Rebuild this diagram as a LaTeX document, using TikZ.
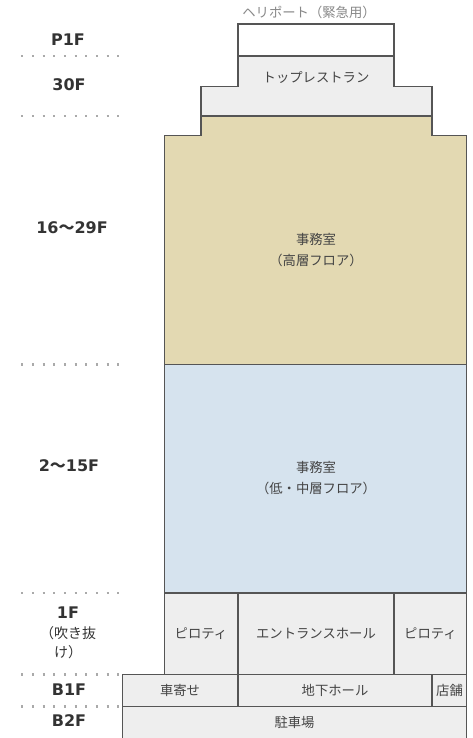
\documentclass[tikz,border=0pt]{standalone}
\usepackage{fontspec}
\setmainfont{DejaVu Sans}
\newfontfamily\jp{Noto Sans CJK JP}
\definecolor{edge}{HTML}{555555}
\definecolor{gry}{HTML}{EEEEEE}
\definecolor{tan}{HTML}{E3D9B2}
\definecolor{blu}{HTML}{D6E3EE}
\definecolor{lbl}{HTML}{333333}
\definecolor{txt}{HTML}{444444}
\definecolor{dotc}{HTML}{AAAAAA}
\definecolor{heli}{HTML}{888888}
\tikzset{
  area/.style={draw=edge, line width=0.8pt, line join=miter},
  floorlbl/.style={font=\fontsize{12}{14.6}\selectfont\bfseries, text=lbl, align=center, inner sep=0pt},
  roomlbl/.style={font=\jp\fontsize{10}{15.8}\selectfont, text=txt, align=center, inner sep=0pt},
  dotline/.style={draw=dotc, line width=1.6pt, dash pattern=on 1.6pt off 6.4pt},
}
\begin{document}
\begin{tikzpicture}[x=0.75pt,y=-0.75pt]
\useasboundingbox (0,0) rectangle (473,738);
\clip (0,0) rectangle (473,738);
% helipad
\draw[area, fill=white] (238,24) rectangle (394,56);
% 30F
\draw[area, fill=gry] (238,56) -- (394,56) -- (394,86.5) -- (432,86.5) -- (432,116) -- (201,116) -- (201,86.5) -- (238,86.5) -- cycle;
% high floors
\draw[area, fill=tan] (201,116) -- (432,116) -- (432,135.5) -- (466.5,135.5) -- (466.5,364.5) -- (164.5,364.5) -- (164.5,135.5) -- (201,135.5) -- cycle;
% low floors
\draw[area, fill=blu] (164.5,364.5) rectangle (466.5,593);
% 1F
\draw[area, fill=gry] (164.5,593) rectangle (238,674.5);
\draw[area, fill=gry] (238,593) rectangle (394,674.5);
\draw[area, fill=gry] (394,593) rectangle (466.5,674.5);
% B1F
\draw[area, fill=gry] (122.5,674.5) rectangle (238,706.5);
\draw[area, fill=gry] (238,674.5) rectangle (432,706.5);
\draw[area, fill=gry] (432,674.5) rectangle (466.5,706.5);
% B2F
\fill[gry] (122.5,706.5) rectangle (466.5,745);
\draw[area] (122.5,745) -- (122.5,706.5) -- (466.5,706.5) -- (466.5,745);
% dotted separators
\foreach \yy in {56,116,364.5,593,674.5,706.5}
  \draw[dotline] (21.3,\yy) -- (119.5,\yy);
% floor labels
\node[floorlbl] (lp1) at (68,40) {P1F};
\node[floorlbl] (l30) at (69,85) {30F};
\node[floorlbl] (lhi) at (72,228) {16{\jp\bfseries 〜}29F};
\node[floorlbl] (llo) at (69,466) {2{\jp\bfseries 〜}15F};
\node[floorlbl] (l1) at (68,633) {1F\\{\jp\mdseries\fontsize{10.5}{14.6}\selectfont （吹き抜}\\{\jp\mdseries\fontsize{10.5}{14.6}\selectfont け）}};
\node[floorlbl] (lb1) at (69,690) {B1F};
\node[floorlbl] (lb2) at (69,721) {B2F};
% room labels
\node[roomlbl, text=heli] (heli) at (309,12) {ヘリポート（緊急用）};
\node[roomlbl] (rest) at (316,77) {トップレストラン};
\node[roomlbl] (high) at (316,250) {事務室\\（高層フロア）};
\node[roomlbl] (low) at (316,478) {事務室\\（低・中層フロア）};
\node[roomlbl] (pil1) at (201,633.5) {ピロティ};
\node[roomlbl] (hall) at (316,633.5) {エントランスホール};
\node[roomlbl] (pil2) at (430.5,633.5) {ピロティ};
\node[roomlbl] (car) at (180,690.5) {車寄せ};
\node[roomlbl] (bhall) at (335,690.5) {地下ホール};
\node[roomlbl] (shop) at (449.5,690.5) {店舗};
\node[roomlbl] (park) at (294.5,722) {駐車場};
\end{tikzpicture}
\end{document}
